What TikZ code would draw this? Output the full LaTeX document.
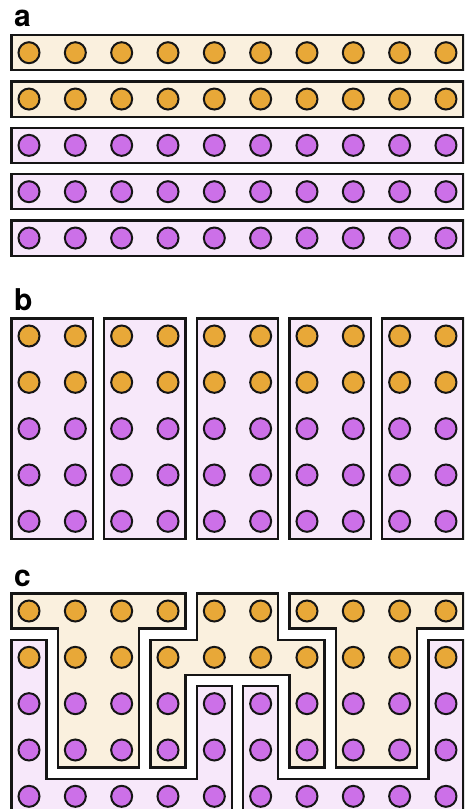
\documentclass[tikz,border=0pt]{standalone}
\usepackage{fontspec}
\setsansfont{TeX Gyre Heros}
\definecolor{orfill}{HTML}{E8A838}
\definecolor{pufill}{HTML}{CC70E8}
\definecolor{crbg}{HTML}{FAF0DE}
\definecolor{pubg}{HTML}{F7E8FA}
\definecolor{ink}{HTML}{151515}
\begin{document}
\begin{tikzpicture}[x=1pt,y=-1pt,
  dot/.style={circle, draw=ink, line width=2pt, minimum size=21pt, inner sep=0pt},
  region/.style={draw=ink, line width=2.2pt, line join=miter},
  crregion/.style={region, fill=crbg},
  puregion/.style={region, fill=pubg},
  lab/.style={font=\fontsize{30}{30}\selectfont\sffamily\bfseries, anchor=base west, inner sep=0pt}]
\useasboundingbox (0,0) rectangle (464,809);
\clip (0,0) rectangle (464,809);
% labels
\node[lab] (la) at (14,26.3) {a};
\node[lab] (lb) at (14,310.5) {b};
\node[lab] (lc) at (14,586.3) {c};
% ---------- panel a ----------
\foreach \j in {0,...,4}{
  \ifnum\j<2 \def\dc{orfill}\else\def\dc{pufill}\fi
  \ifnum\j<2
    \draw[crregion] (11.5,{52.7+46.33*\j-17.6}) rectangle (463.47,{52.7+46.33*\j+17.6});
  \else
    \draw[puregion] (11.5,{52.7+46.33*\j-17.6}) rectangle (463.47,{52.7+46.33*\j+17.6});
  \fi
  \foreach \i in {0,...,9}
    \node[dot, fill=\dc] (a-\j-\i) at ({29+46.33*\i},{52.7+46.33*\j}) {};
}
% ---------- panel b ----------
\foreach \k in {0,...,4}
  \draw[puregion] ({29+46.33*2*\k-17.5},318.5) rectangle ({29+46.33*(2*\k+1)+17.5},538.82);
\foreach \j in {0,...,4}{
  \ifnum\j<2 \def\dc{orfill}\else\def\dc{pufill}\fi
  \foreach \i in {0,...,9}
    \node[dot, fill=\dc] (b-\j-\i) at ({29+46.33*\i},{336+46.33*\j}) {};
}
% ---------- panel c ----------
% orange region 1 (left T)
\draw[crregion] (11.5,593.5) -- (185.49,593.5) -- (185.49,628.5) -- (139.16,628.5)
  -- (139.16,767.49) -- (57.83,767.49) -- (57.83,628.5) -- (11.5,628.5) -- cycle;
% orange region 2 (arch)
\draw[crregion] (196.82,593.5) -- (278.15,593.5) -- (278.15,639.83) -- (324.48,639.83)
  -- (324.48,767.49) -- (289.48,767.49) -- (289.48,674.83) -- (185.49,674.83)
  -- (185.49,767.49) -- (150.49,767.49) -- (150.49,639.83) -- (196.82,639.83) -- cycle;
% orange region 3 (right T)
\draw[crregion] (289.48,593.5) -- (463.47,593.5) -- (463.47,628.5) -- (417.14,628.5)
  -- (417.14,767.49) -- (335.81,767.49) -- (335.81,628.5) -- (289.48,628.5) -- cycle;
% purple region 1 (left U)
\draw[puregion] (11.5,639.83) -- (46.5,639.83) -- (46.5,778.82) -- (196.82,778.82)
  -- (196.82,686.16) -- (231.82,686.16) -- (231.82,813.82) -- (11.5,813.82) -- cycle;
% purple region 2 (right U)
\draw[puregion] (243.15,686.16) -- (278.15,686.16) -- (278.15,778.82) -- (428.47,778.82)
  -- (428.47,639.83) -- (463.47,639.83) -- (463.47,813.82) -- (243.15,813.82) -- cycle;
\foreach \j in {0,...,4}{
  \ifnum\j<2 \def\dc{orfill}\else\def\dc{pufill}\fi
  \foreach \i in {0,...,9}
    \node[dot, fill=\dc] (c-\j-\i) at ({29+46.33*\i},{611+46.33*\j}) {};
}
\end{tikzpicture}
\end{document}
